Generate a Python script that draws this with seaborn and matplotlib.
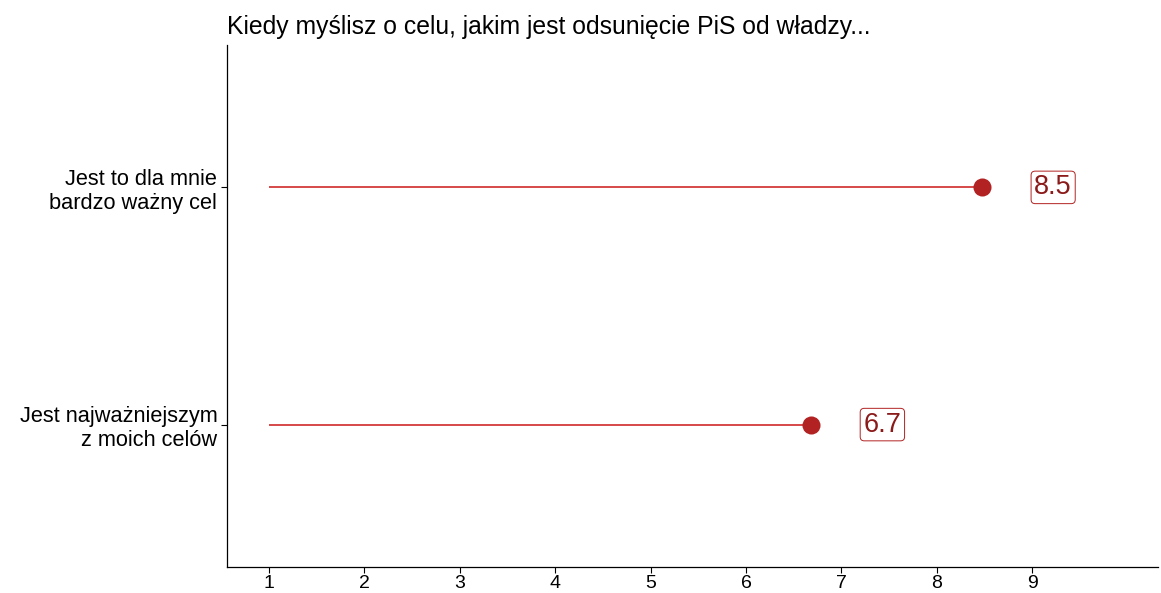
import numpy as np
import pandas as pd
import matplotlib
matplotlib.use("Agg")
import matplotlib.pyplot as plt
import seaborn as sns

# data
categories = ["Jest to dla mnie\nbardzo ważny cel", "Jest najważniejszym\nz moich celów"]
values = [8.47, 6.68]
labels = ["8.5", "6.7"]
seg_start = 1
x_ticks = [1, 2, 3, 4, 5, 6, 7, 8, 9]
title = "Kiedy myślisz o celu, jakim jest odsunięcie PiS od władzy..."

df = pd.DataFrame({"cat": categories, "val": values, "lab": labels})

sns.set_theme(style="ticks")
plt.rcParams["font.family"] = ["Liberation Sans", "DejaVu Sans"]

fig = plt.figure(figsize=(11.61, 5.93), dpi=100)
ax = fig.add_axes([0.1955, 0.044, 0.802, 0.880])

ax.hlines(df["cat"], seg_start, df["val"], color="#d02a2a", lw=1.2, zorder=1)
sns.stripplot(data=df, x="val", y="cat", jitter=False, color="#b22222",
              size=13, linewidth=0, ax=ax, zorder=3)

for i, row in df.iterrows():
    ax.text(row["val"] + 0.75, i, row["lab"], ha="center", va="center",
            fontsize=19.5, color="#8b1a1a",
            bbox=dict(boxstyle="round,pad=0.12,rounding_size=0.15",
                      fc="white", ec="#b22222", lw=0.7))

ax.set_xlim(0.56, 10.32)
ax.set_ylim(1.6, -0.6)
ax.set_xticks(x_ticks)
ax.set_xticklabels([str(t) for t in x_ticks])
ax.set_xlabel("")
ax.set_ylabel("")
ax.tick_params(axis="both", colors="black", length=4, width=0.8)
ax.tick_params(axis="x", labelsize=14, pad=1.5)
ax.tick_params(axis="y", labelsize=15.7, pad=3)
for lab in ax.get_yticklabels():
    lab.set_multialignment("right")

sns.despine(ax=ax)
for side in ["left", "bottom"]:
    ax.spines[side].set_color("black")
    ax.spines[side].set_linewidth(0.9)

ax.set_title(title, loc="left", fontsize=17.8, pad=8, color="black")

fig.savefig("out.png", dpi=100)
